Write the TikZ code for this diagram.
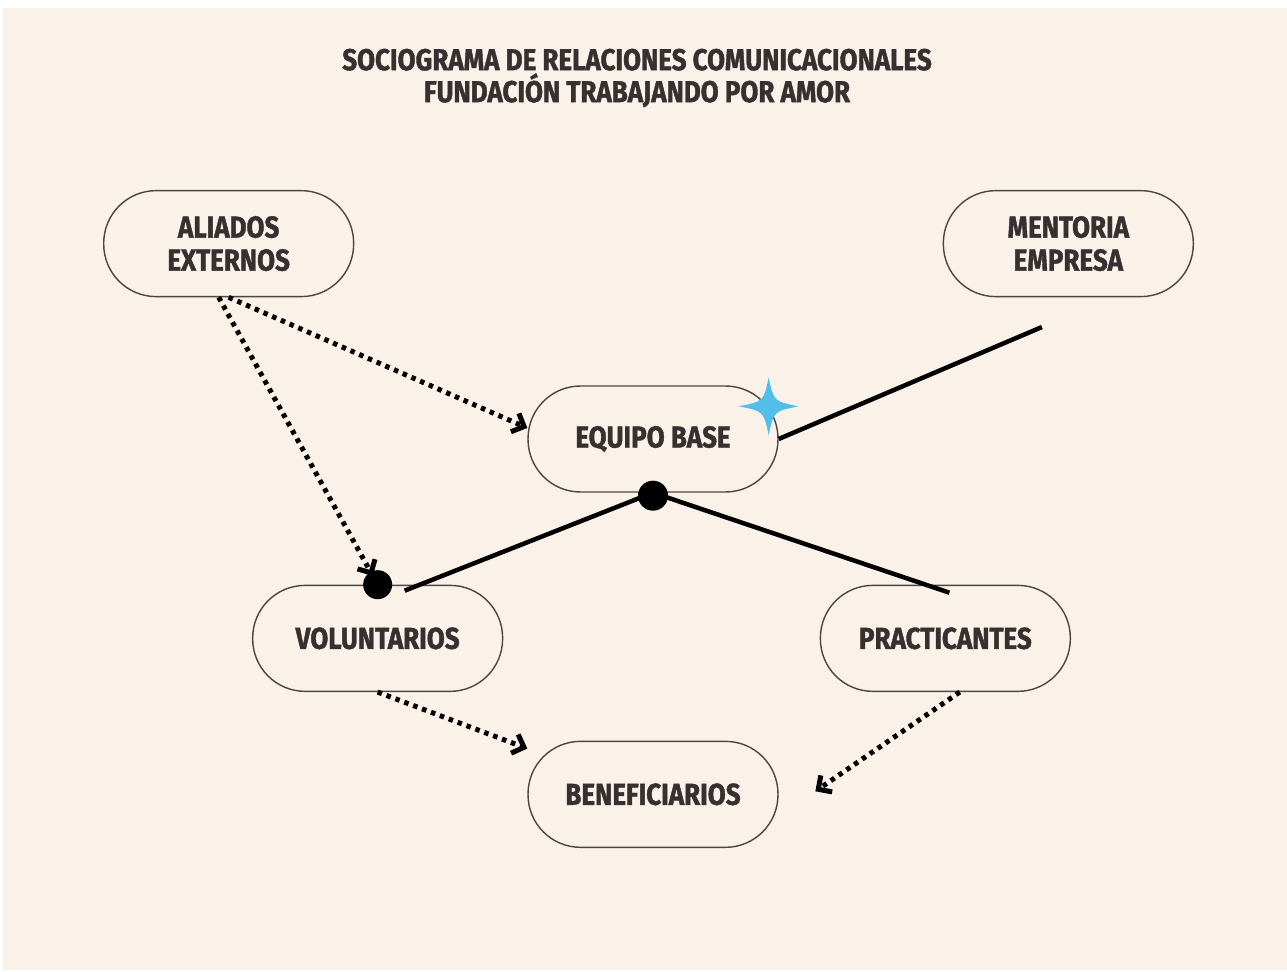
\documentclass[tikz,border=0pt]{standalone}
\usepackage{fontspec}
\newfontfamily\sociofont{Fira Sans}[FakeStretch=0.86, FakeBold=1.3]
\usetikzlibrary{arrows.meta, positioning, calc}

\definecolor{paper}{HTML}{FAF2E9}
\definecolor{ink}{HTML}{363130}
\definecolor{rim}{HTML}{4A4643}
\definecolor{sparkblue}{HTML}{52BFEA}

\begin{document}
\begin{tikzpicture}[
  x=0.02cm, y=-0.02cm,
  pill/.style={draw=rim, line width=0.8pt, rounded corners=1.05cm, minimum width=5cm, minimum height=2.12cm,
               font=\sociofont\bfseries\fontsize{17.2}{18.8}\selectfont, text=ink, align=center},
  heading/.style={font=\sociofont\bfseries\fontsize{17.2}{18.2}\selectfont, text=ink, align=center},
  dotarr/.style={-{Straight Barb[length=2mm, width=4mm]}, line width=0.1cm, dash pattern=on 0.09cm off 0.1cm},
  tie/.style={line width=0.09cm},
  hub/.style={fill=black},
]
  \useasboundingbox (0,0) rectangle (1287,972);
  \fill[paper] (3,8) rectangle (1287,970);

  \node[heading] (head) at (637,78) {SOCIOGRAMA DE RELACIONES COMUNICACIONALES\\FUNDACIÓN TRABAJANDO POR AMOR};

  \node[pill] (equ) at (653,439) {EQUIPO BASE};
  \node[pill, above left=1.76cm and 3.46cm of equ]  (ali) {ALIADOS\\EXTERNOS};
  \node[pill, above right=1.76cm and 3.28cm of equ] (men) {MENTORIA\\EMPRESA};
  \node[pill, below left=1.84cm and 0.48cm of equ]  (vol) {VOLUNTARIOS};
  \node[pill, below right=1.84cm and 0.82cm of equ] (pra) {PRACTICANTES};
  \node[pill, below=4.96cm of equ]                  (ben) {BENEFICIARIOS};

  \draw[dotarr] (ali.south) -- (equ.175);
  \draw[dotarr, shorten >=0.2cm] ([xshift=-0.2cm]ali.south) -- (vol.north);
  \draw[dotarr] (vol.south) -- (ben.160);
  \draw[dotarr, shorten >=0.89cm] (pra.285) -- (ben.-10);

  \draw[tie, shorten <=1.52cm] (men.-51) -- (equ.east);
  \draw[tie] (equ.south) -- ($(vol.north)+(27,6)$);
  \draw[tie] (equ.south) -- ($(pra.north)+(4,8)$);
  \fill[hub] ($(equ.south)+(0,3)$) circle[radius=0.3cm];
  \fill[hub] (vol.north) circle[radius=0.29cm];

  \coordinate (spark) at ($(equ.north east)+(-10,21)$);
  \fill[sparkblue, shift={(spark)}] (30,0) .. controls (5,5) .. (0,29) .. controls (-5,5) .. (-30,0)
    .. controls (-5,-5) .. (0,-29) .. controls (5,-5) .. cycle;
\end{tikzpicture}
\end{document}
